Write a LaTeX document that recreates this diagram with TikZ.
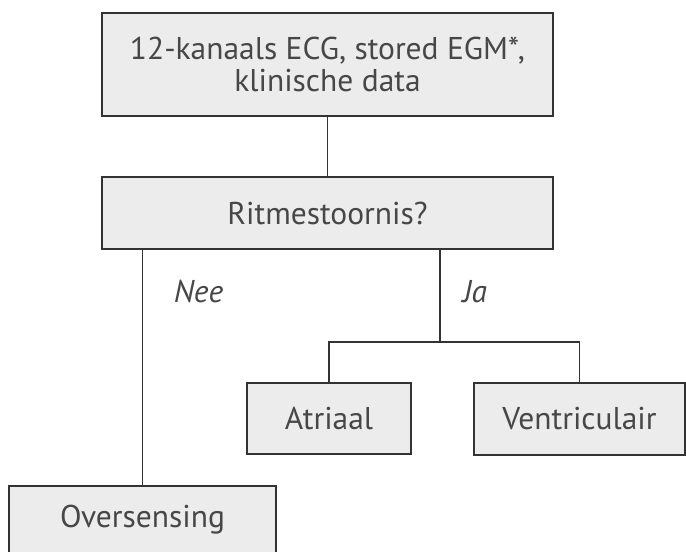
\documentclass[tikz,border=0pt]{standalone}
\usepackage{fontspec}
\setmainfont{PT Sans}
\definecolor{lijn}{HTML}{333333}
\definecolor{vak}{HTML}{EBECEB}
\definecolor{tekst}{HTML}{474747}
\begin{document}
\begin{tikzpicture}[x=1pt, y=1pt, line width=1.5pt, draw=lijn,
  box/.style={draw=lijn, fill=vak, text=tekst, inner sep=0pt, align=center, font=\fontsize{31.5}{32}\selectfont},
  lbl/.style={text=tekst, inner sep=0pt, anchor=base west, font=\fontsize{31.5}{32}\selectfont\itshape}]
  \useasboundingbox (0,0) rectangle (686,552); % paginaformaat
  \node[box, minimum width=451pt, minimum height=103pt] (ecg) at (327.5,487.5) {12-kanaals ECG, stored EGM*,\\klinische data};
  \node[box, minimum width=451pt, minimum height=72pt] (ritme) at (327.5,339) {Ritmestoornis?};
  \node[box, minimum width=164pt, minimum height=71pt] (atriaal) at (329,133.5) {Atriaal};
  \node[box, minimum width=211pt, minimum height=72pt] (ventr) at (579.5,133) {Ventriculair};
  \node[box, minimum width=267pt, minimum height=68pt] (overs) at (142.5,32) {Oversensing};
  \coordinate (split) at (440,210);
  \draw (ecg) -- (ritme);
  \draw (ritme.south -| overs.north) -- (overs.north);
  \draw (ritme.south -| split) -- (split);
  \draw (atriaal.north) |- (split) -| (ventr.north);
  \node[lbl] (nee) at (173,249) {Nee};
  \node[lbl] (ja) at (462,249) {Ja};
\end{tikzpicture}
\end{document}
